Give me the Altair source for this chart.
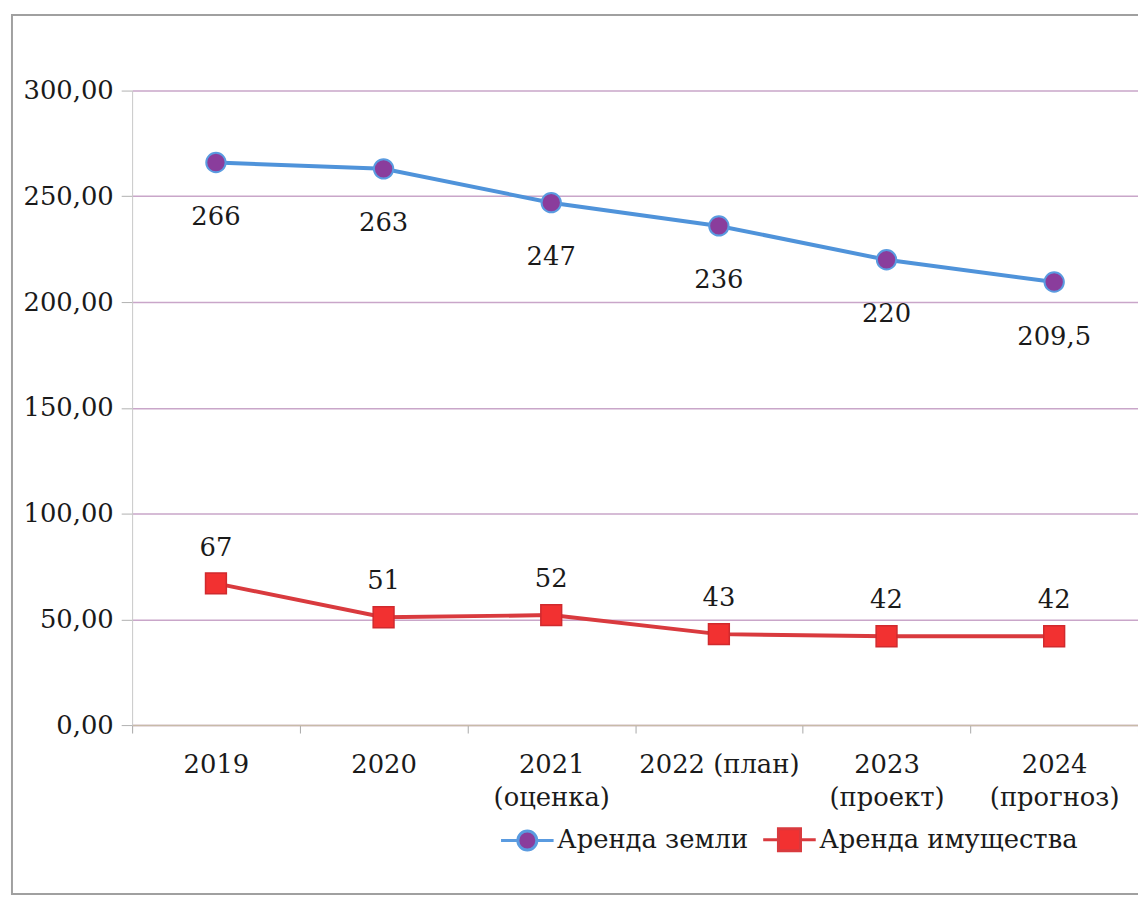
import altair as alt
import pandas as pd

categories = ["2019", "2020", "2021\n(оценка)", "2022  (план)", "2023\n(проект)", "2024\n(прогноз)"]
land_values = [266, 263, 247, 236, 220, 209.5]
property_values = [67, 51, 52, 43, 42, 42]
series_names = ["Аренда земли", "Аренда имущества"]
y_ticks = [0, 50, 100, 150, 200, 250, 300]

rows = []
for c, v in zip(categories, land_values):
    rows.append({"cat": c, "value": v, "series": series_names[0]})
for c, v in zip(categories, property_values):
    rows.append({"cat": c, "value": v, "series": series_names[1]})
df = pd.DataFrame(rows)
df["label"] = df["value"].map(lambda v: (f"{v:g}").replace(".", ","))

W, H = 1013, 639
FONT = "DejaVu Serif"
FS = 26

x_enc = alt.X("cat:N", sort=categories, title=None,
              scale=alt.Scale(paddingInner=0, paddingOuter=0),
              axis=alt.Axis(labelAngle=0, labelFont=FONT, labelFontSize=FS,
                            labelColor="#1a1a1a", labelPadding=19,
                            labelExpr="split(datum.label, '\\n')",
                            labelLineHeight=33,
                            domainColor="#c8bba8", domainWidth=1.5,
                            tickColor="#a8a8a8", tickSize=8, tickBand="extent",
                            grid=False))
y_enc = alt.Y("value:Q", title=None,
              scale=alt.Scale(domain=[0, 300], nice=False),
              axis=alt.Axis(values=y_ticks, labelFont=FONT, labelFontSize=FS,
                            labelColor="#1a1a1a", labelPadding=8,
                            labelExpr="replace(format(datum.value, '.2f'), '.', ',')",
                            domainColor="#c8c8c8", tickColor="#b0b0b0", tickSize=11,
                            gridColor="#c9a6c9", gridWidth=1.5))

base = alt.Chart(df).encode(x=x_enc, y=y_enc)

lines = base.mark_line(strokeWidth=4).encode(
    color=alt.Color("series:N", sort=series_names,
                    scale=alt.Scale(domain=series_names, range=["#4f93da", "#d93a3e"]),
                    legend=None))

land_pts = base.transform_filter(alt.datum.series == series_names[0]).mark_point(
    shape="circle", filled=True, size=380, fill="#8a3d9c", stroke="#5a9be0",
    strokeWidth=2, opacity=1)
prop_pts = base.transform_filter(alt.datum.series == series_names[1]).mark_point(
    shape="square", filled=True, size=440, fill="#f23131", stroke="#d02a2e",
    strokeWidth=1.5, opacity=1)

land_lbl = base.transform_filter(alt.datum.series == series_names[0]).mark_text(
    font=FONT, fontSize=FS, color="#1a1a1a", dy=55).encode(text="label:N")
prop_lbl = base.transform_filter(alt.datum.series == series_names[1]).mark_text(
    font=FONT, fontSize=FS, color="#1a1a1a", dy=-36).encode(text="label:N")

path_land = "M-1,0L-0.36,0M0.36,0L1,0M-0.36,0A0.36,0.36,0,1,1,0.36,0A0.36,0.36,0,1,1,-0.36,0Z"
path_prop = "M-1,0L-0.42,0M0.42,0L1,0M-0.42,-0.42L0.42,-0.42L0.42,0.42L-0.42,0.42Z"

legend_layer = base.mark_point(filled=True, opacity=0).encode(
    fill=alt.Fill("series:N", sort=series_names, title=None,
                  scale=alt.Scale(domain=series_names, range=["#8a3d9c", "#f23131"])),
    stroke=alt.Stroke("series:N", sort=series_names, title=None,
                      scale=alt.Scale(domain=series_names, range=["#5a9be0", "#d93a3e"])),
    shape=alt.Shape("series:N", sort=series_names, title=None,
                    scale=alt.Scale(domain=series_names, range=[path_land, path_prop]),
                    legend=alt.Legend(orient="none", direction="horizontal",
                                      legendX=370, legendY=726,
                                      symbolSize=2800, symbolOpacity=1,
                                      symbolStrokeWidth=3,
                                      labelFont=FONT, labelFontSize=FS,
                                      labelColor="#1a1a1a", labelOffset=2,
                                      columnPadding=8, labelLimit=400)),
)

frame = alt.Chart(alt.Data(values=[{}])).mark_rect(
    filled=False, stroke="#a0a0a0", strokeWidth=2, clip=False).encode(
    x=alt.value(-121), x2=alt.value(W + 60), y=alt.value(-76), y2=alt.value(H + 170))

chart = alt.layer(frame, lines, land_pts, prop_pts, land_lbl, prop_lbl, legend_layer).resolve_scale(
    color="independent").properties(
    width=W, height=H,
    autosize=alt.AutoSizeParams(type="none"),
    padding={"left": 125, "top": 80, "right": 0, "bottom": 174},
    background="white",
).configure_view(stroke=None)

chart.save("out.html", embed_options={"renderer": "svg", "actions": False})
